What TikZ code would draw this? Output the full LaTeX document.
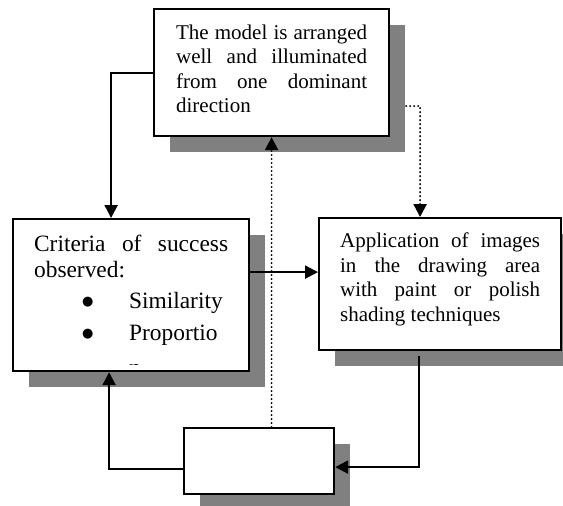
\documentclass[tikz,border=0pt]{standalone}
\usepackage{fontspec}
\setmainfont{Liberation Serif}
\newfontfamily\bulletfont{DejaVu Sans}
\usetikzlibrary{arrows.meta,shadows,backgrounds}
\definecolor{shadowgray}{RGB}{128,128,128}

% bullet item of the criteria list
\newcommand{\critem}[1]{\makebox[95pt][l]{\hspace*{48pt}\raisebox{3.5pt}{\bulletfont\fontsize{13pt}{13pt}\selectfont ●}}#1}

\begin{document}
\begin{tikzpicture}[
  x=1pt, y=-1pt, >={Triangle[length=13pt,width=13pt]},
  box/.style={rectangle,draw=black,line width=2.2pt,fill=white,anchor=north west,
    inner ysep=0pt,align=justify,
    drop shadow={shadow xshift=16pt,shadow yshift=-16pt,fill=shadowgray,opacity=1}},
  smalltext/.style={font=\fontsize{21pt}{24.5pt}\selectfont},
  bigtext/.style={font=\fontsize{23.4pt}{26.7pt}\selectfont},
  arrow/.style={->,line width=2.2pt},
  dotarrow/.style={arrow,dash pattern=on 0pt off 4pt,line cap=round},
]
\useasboundingbox (0,0) rectangle (563,506);
\begin{scope}[on background layer]
  \fill[white] (0,0) rectangle (563,506);
\end{scope}

\node[box,smalltext,minimum width=235pt,minimum height=127pt,inner xsep=22pt,
  text width=191pt,text height=30.3pt,text depth=96.7pt] (model) at (153,8)
  {The model is arranged\linebreak well and illuminated\linebreak
   from one dominant\linebreak direction};
\node[box,bigtext,minimum width=236pt,minimum height=152pt,inner xsep=21pt,
  text width=194pt,text height=32pt,text depth=120pt] (crit) at (12,218)
  {Criteria of success\linebreak observed:\\[4.3pt]
   \critem{Similarity}\\[5.3pt]\critem{Proportio}};
\node[box,smalltext,minimum width=242pt,minimum height=132pt,inner xsep=21pt,
  text width=200pt,text height=29.7pt,text depth=102.3pt] (apply) at (318,217)
  {Application of images\linebreak in the drawing area\linebreak
   with paint or polish\linebreak shading techniques};
\node[box,minimum width=150pt,minimum height=66pt] (blank) at (183,427) {};

% last word wraps below the box edge
\begin{scope}
  \clip (crit.north west) rectangle ([yshift=8pt]crit.south east);
  \node[bigtext,anchor=base west,inner sep=0pt] (critcut)
    at ([xshift=117pt,yshift=-3pt]crit.south west) {n};
\end{scope}

\draw[arrow] (model.west) -| ([xshift=-20pt]crit.north);
\begin{scope}[on background layer]
  \draw[dotarrow] ([yshift=-33.5pt]model.east) -| ([xshift=-20pt]apply.north);
\end{scope}
\draw[arrow] ([yshift=23pt]crit.east) -- ([yshift=23pt]crit.east -| apply.west);
\draw[arrow,shorten <=5pt] ([xshift=-21pt]apply.south) |- ([yshift=-6pt]blank.east);
\draw[arrow] ([yshift=-8pt]blank.west) -| ([xshift=-22pt]crit.south);
\draw[dotarrow] (blank.north -| model.south) -- (model.south);
\end{tikzpicture}
\end{document}
